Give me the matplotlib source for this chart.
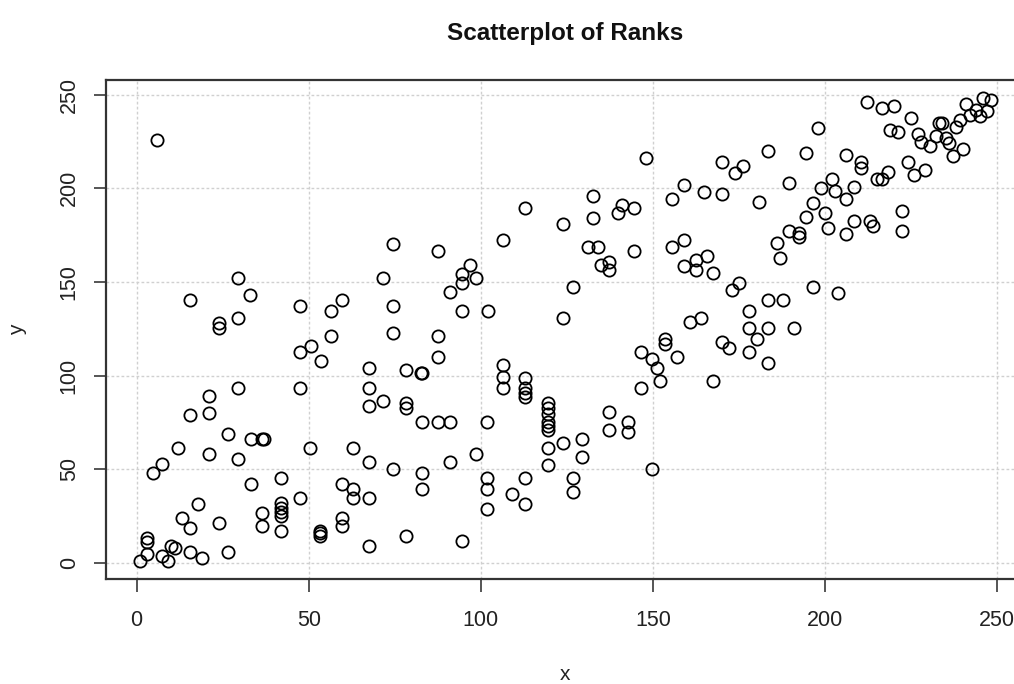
import matplotlib

matplotlib.use("Agg")
import matplotlib.pyplot as plt

# rank pairs
rank_x = [
    6.0, 74.4,
    87.6, 106.5, 112.9, 123.9, 132.5, 132.5, 139.9, 141.1, 144.6, 148.0, 155.5, 159.0, 164.9,
    131.2, 133.9, 144.6, 155.5, 159.0,
    212.1, 216.4, 220.1, 225.0, 197.8, 218.8, 221.1, 227.1, 227.9, 230.5, 232.1, 233.1, 234.1,
    235.1, 235.9, 238.0, 239.2, 240.9, 237.1, 240.1, 242.1, 243.8, 245.0, 247.1, 246.0, 248.2,
    170.0, 176.1, 173.8, 183.5, 194.4, 206.0, 210.4, 210.4, 170.0, 180.9, 189.5, 198.8, 202.1,
    202.9, 206.0, 208.5, 215.0, 216.6, 218.2, 224.0, 225.9, 229.1, 196.6, 194.4, 200.0, 200.9,
    208.4, 213.0, 214.0, 222.4, 222.4, 206.0, 189.5, 192.4, 192.4, 185.9,
    29.5, 32.9, 15.5, 23.9, 23.9, 29.5, 47.4, 71.5, 74.4, 59.6, 56.4, 56.4, 74.4, 50.6, 47.4,
    53.5, 67.5, 78.2, 29.5, 47.4, 67.5, 21.1, 15.5, 21.1, 71.5, 67.5, 78.2, 78.2,
    96.8, 94.4, 94.4, 98.6, 91.0, 94.4, 102.0, 87.6, 87.6, 83.0, 82.5, 106.5, 106.5, 106.5,
    112.9, 112.9, 112.9, 112.9, 119.4, 119.4, 126.9, 123.9, 134.9, 137.3, 137.3, 159.0, 162.4,
    162.4, 165.6, 160.9, 163.9, 153.5, 153.5, 146.4, 149.6, 151.1, 152.0, 156.9, 146.4, 137.3,
    186.9, 167.5, 175.1, 172.9, 196.6, 203.8, 183.5, 187.9, 178.0, 178.0, 183.5, 191.1, 180.1,
    170.0, 172.1, 178.0, 183.5, 167.5,
    26.4, 33.1, 36.5, 36.9, 11.9, 21.1, 29.5, 7.4, 4.8, 50.4, 62.9, 67.5, 74.4, 41.9, 33.1,
    47.4, 59.6, 62.9, 62.9, 67.5, 17.9, 41.9, 41.9, 41.9, 41.9, 41.9, 36.5, 36.5, 13.1, 15.5,
    24.0, 59.6, 59.6, 53.3, 53.3, 53.3, 78.2, 67.5, 2.9, 2.9, 2.9, 1.0, 7.3, 9.0, 10.0, 11.1,
    15.5, 19.0, 26.4,
    83.0, 87.4, 91.0, 101.9, 119.4, 119.4, 119.4, 119.4, 123.9, 129.4, 129.4, 119.4, 119.4,
    137.3, 142.6, 142.6, 149.6, 98.5, 91.0, 83.0, 83.0, 101.9, 101.9, 101.9, 108.9, 112.9,
    112.9, 126.9, 126.9, 94.4,
]
rank_y = [
    225.8, 170.1,
    166.5, 172.4, 189.3, 180.9, 196.1, 184.0, 186.6, 191.1, 189.3, 216.0, 194.3, 201.8, 197.9,
    168.5, 168.5, 166.5, 168.5, 172.4,
    246.3, 242.9, 244.0, 237.4, 232.1, 231.1, 229.9, 229.2, 224.9, 222.8, 227.9, 234.7, 234.7,
    227.0, 224.0, 232.9, 236.5, 244.9, 217.3, 221.0, 239.2, 241.8, 238.8, 241.3, 248.4, 247.2,
    213.9, 212.1, 208.0, 219.9, 218.7, 217.8, 213.9, 211.0, 197.0, 192.8, 203.0, 200.3, 204.9,
    198.7, 194.3, 200.5, 204.9, 204.9, 208.9, 213.9, 207.1, 209.9, 192.0, 184.8, 186.6, 179.0,
    182.5, 182.7, 180.0, 187.9, 177.4, 175.4, 177.4, 176.3, 173.8, 170.6,
    151.9, 143.0, 140.3, 128.2, 125.2, 130.6, 137.3, 151.9, 137.3, 140.3, 134.3, 121.1, 122.5,
    115.8, 112.7, 107.7, 104.2, 102.9, 93.1, 93.1, 93.1, 89.2, 78.9, 80.2, 86.5, 83.7, 85.1,
    82.5,
    159.0, 154.1, 149.3, 151.9, 144.8, 134.3, 134.3, 121.1, 110.0, 101.2, 101.5, 105.6, 99.4,
    93.2, 98.6, 93.2, 90.5, 88.4, 85.1, 82.5, 147.4, 130.7, 159.0, 160.8, 156.4, 158.7, 161.7,
    156.4, 164.0, 128.4, 130.7, 119.5, 116.8, 112.7, 108.8, 104.2, 97.2, 110.0, 93.2, 80.3,
    162.9, 154.9, 149.6, 145.7, 147.4, 143.9, 140.3, 140.3, 134.3, 125.4, 125.4, 125.4, 119.3,
    118.1, 114.5, 112.7, 106.5, 97.2,
    68.6, 66.1, 66.1, 66.1, 61.1, 58.1, 55.4, 52.6, 48.1, 61.1, 61.1, 54.0, 49.9, 45.1, 42.0,
    34.6, 42.0, 39.4, 34.6, 34.6, 31.4, 32.1, 29.1, 27.3, 24.9, 17.1, 26.4, 19.8, 23.7, 18.7,
    21.4, 23.7, 19.8, 17.1, 15.7, 14.3, 14.3, 8.9, 13.4, 10.9, 4.5, 1.0, 3.6, 1.1, 8.9, 7.7,
    5.9, 2.4, 5.9,
    75.0, 75.0, 75.0, 75.0, 79.5, 75.0, 73.2, 70.9, 63.8, 66.1, 56.6, 61.1, 52.2,
    70.9, 75.3, 69.7, 50.1, 58.1, 54.0, 48.1, 39.4, 45.1, 39.4, 28.7, 36.7, 45.1,
    31.4, 45.1, 37.6, 11.6,
]
tick_vals = [0, 50, 100, 150, 200, 250]

W, H = 1014, 684
fig = plt.figure(figsize=(W / 100, H / 100), dpi=100)
fig.patch.set_facecolor("#FFFFFF")

# plot box runs a little past the right edge, as in the reference
left, right, top, bottom = 106.1, 1024.3, 80.0, 579.3
ax = fig.add_axes([left / W, 1 - bottom / H, (right - left) / W, (bottom - top) / H])
ax.set_xlim(-8.88, 257.88)
ax.set_ylim(-8.88, 257.88)

for v in tick_vals:
    ax.axvline(v, color="#D0D0D0", lw=1.0, ls=(0, (2, 1.6)), zorder=0)
    ax.axhline(v, color="#D0D0D0", lw=1.0, ls=(0, (2, 1.6)), zorder=0)

ax.plot(rank_x, rank_y, ls="none", marker="o", ms=8.8, mfc="none",
        mec="#000000", mew=1.3, zorder=3)

ax.set_xticks(tick_vals)
ax.set_yticks(tick_vals)
ax.set_xticklabels([str(v) for v in tick_vals])
ax.set_yticklabels([str(v) for v in tick_vals])
ax.tick_params(direction="out", length=9, width=1.4, color="#555555",
               labelsize=15.5, labelcolor="#222222")
ax.tick_params(axis="x", pad=13)
ax.tick_params(axis="y", pad=10)
for lab in ax.get_yticklabels():
    lab.set_rotation(90)
    lab.set_va("center")
for lab in ax.get_xticklabels() + ax.get_yticklabels():
    lab.set_family("Liberation Sans")
for spine in ax.spines.values():
    spine.set_color("#333333")
    spine.set_linewidth(1.6)

fig.text(565 / W, 1 - 40 / H, "Scatterplot of Ranks", ha="center", va="baseline",
         fontsize=17.5, fontweight="bold", family="Liberation Sans", color="#111111")
fig.text(565 / W, 1 - 675 / H, "x", ha="center", va="center",
         fontsize=15, family="Liberation Sans", color="#222222")
fig.text(18 / W, 1 - 330 / H, "y", ha="center", va="center", rotation=90,
         fontsize=15, family="Liberation Sans", color="#222222")

fig.savefig("out.png", dpi=100)
plt.close(fig)
